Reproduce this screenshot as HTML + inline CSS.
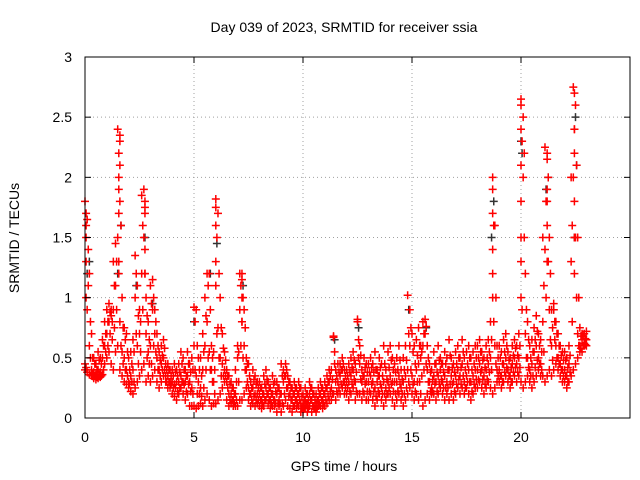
<!DOCTYPE html>
<html><head><meta charset="utf-8"><style>
body{margin:0;background:#fff}
svg{display:block;font-family:"Liberation Sans",sans-serif}
</style></head><body>
<svg id="chart" width="640" height="480">
<text x="344" y="32" text-anchor="middle" font-size="14">Day 039 of 2023, SRMTID for receiver ssia</text>
<text x="344" y="471" text-anchor="middle" font-size="14">GPS time / hours</text>
<text transform="translate(19,238) rotate(-90)" text-anchor="middle" font-size="14">SRMTID / TECUs</text>
<g id="grid"></g><g id="marks"></g><g id="axes"></g>
</svg>
<script>
const xTicks=[0,5,10,15,20];
const yTicks=[0,0.5,1,1.5,2,2.5,3];
const yTickLabels=["0","0.5","1","1.5","2","2.5","3"];
const step=0.1;
const lowV=[.40,.38,.36,.35,.33,.32,.33,.34,.36,.45,
.50,.55,.45,.40,.55,.60,.40,.35,.30,.28,
.25,.22,.20,.25,.30,.35,.40,.45,.30,.35,
.30,.35,.40,.30,.25,.30,.35,.30,.25,.25,
.20,.18,.15,.20,.25,.20,.15,.20,.10,.10,
.10,.08,.10,.12,.10,.15,.20,.15,.10,.12,
.12,.15,.20,.25,.30,.15,.10,.12,.10,.10,
.10,.15,.15,.20,.25,.15,.10,.12,.10,.12,
.10,.08,.10,.15,.12,.08,.10,.10,.05,.10,
.05,.10,.15,.10,.08,.05,.10,.08,.10,.05,
.05,.08,.05,.10,.05,.08,.05,.10,.10,.08,
.10,.12,.15,.15,.20,.15,.20,.20,.25,.20,
.20,.15,.20,.25,.15,.20,.20,.15,.20,.15,
.15,.20,.15,.10,.15,.20,.15,.10,.15,.20,
.20,.15,.10,.15,.20,.15,.10,.15,.20,.25,
.20,.15,.20,.15,.20,.10,.15,.20,.15,.20,
.20,.15,.20,.25,.20,.15,.20,.15,.20,.15,
.20,.25,.20,.25,.20,.25,.20,.15,.20,.25,
.25,.30,.25,.20,.25,.30,.25,.20,.25,.30,
.30,.25,.30,.35,.30,.25,.30,.35,.30,.35,
.30,.25,.30,.35,.30,.25,.30,.35,.40,.35,
.35,.30,.35,.40,.35,.40,.45,.40,.35,.30,
.30,.25,.30,.35,.40,.45,.50,.55,.55,.60,.60];
const midV=[.45,.90,.60,.40,.38,.36,.40,.38,.50,.60,
.70,.80,.85,.90,1.10,1.50,.80,.55,.50,.40,
.30,.35,.40,1.00,.60,.70,1.20,1.50,.70,.55,
.60,.90,.70,.50,.40,.45,.50,.35,.35,.30,
.30,.28,.30,.30,.35,.30,.30,.35,.30,.25,
.60,.35,.30,.25,.40,.60,.80,.55,.40,.30,
1.10,.75,.50,.45,.40,.30,.20,.20,.15,.20,
.50,.90,.80,.60,.40,.25,.20,.25,.20,.20,
.20,.15,.20,.25,.20,.15,.20,.15,.20,.15,
.20,.30,.35,.25,.20,.15,.20,.15,.20,.12,
.12,.15,.12,.20,.15,.10,.12,.15,.20,.15,
.20,.25,.30,.25,.67,.30,.30,.35,.40,.30,
.30,.30,.35,.40,.30,.80,.45,.30,.35,.30,
.30,.35,.30,.25,.30,.35,.25,.30,.25,.30,
.35,.30,.30,.30,.35,.25,.30,.35,.40,.60,
.35,.30,.40,.45,.50,.60,.70,.40,.30,.25,
.35,.30,.35,.40,.30,.35,.30,.40,.35,.30,
.35,.40,.35,.45,.30,.35,.40,.30,.35,.40,
.40,.45,.40,.35,.40,.45,.50,1.20,.60,.40,
.40,.35,.45,.50,.40,.35,.45,.50,.45,.50,
1.50,2.00,.70,.50,.40,.45,.55,.60,.50,.45,
.80,1.40,1.80,.90,.60,.90,.60,.50,.45,.40,
.40,.35,.45,1.30,2.00,1.50,.70,.60,.65,.62,.65];
const highV=[1.80,1.65,1.20,.70,.50,.45,.55,.50,.65,.80,
.90,.95,.90,1.30,1.45,2.40,2.30,1.00,.75,.70,
.50,.55,.65,1.35,1.10,.90,1.85,1.90,1.00,.80,
1.10,1.15,.90,.70,.55,.60,.65,.45,.45,.40,
.40,.45,.40,.45,.55,.50,.40,.55,.45,.50,
.92,.90,.50,.50,.70,1.00,1.20,1.20,.60,.55,
1.82,1.70,1.00,.70,.55,.40,.35,.30,.25,.40,
.60,1.20,1.20,.90,.50,.45,.30,.40,.35,.30,
.30,.25,.35,.40,.30,.25,.35,.30,.30,.25,
.45,.40,.45,.35,.30,.25,.30,.25,.30,.25,
.20,.25,.20,.30,.25,.20,.20,.25,.30,.25,
.30,.35,.40,.40,.68,.40,.45,.45,.50,.40,
.40,.45,.50,.55,.45,.82,.60,.40,.50,.45,
.45,.50,.45,.55,.40,.50,.45,.60,.40,.55,
.60,.50,.45,.50,.60,.40,.50,.60,1.02,.90,
.70,.60,.65,.75,.60,.80,.82,.60,.45,.40,
.55,.45,.60,.50,.45,.55,.50,.65,.50,.45,
.55,.60,.50,.65,.50,.55,.60,.50,.55,.60,
.60,.65,.55,.50,.60,.65,.80,2.00,1.60,.60,
.60,.55,.65,.70,.55,.50,.60,.65,.60,.70,
2.65,2.50,1.20,.80,.60,.65,.75,.85,.70,.65,
1.50,2.25,2.20,1.50,.90,.95,.80,.70,.60,.55,
.55,.50,.60,2.00,2.75,2.60,1.50,.75,.70,.70,.72];
const halfB=[.42,1.40,.50,.37,.35,.34,.36,.35,.40,.55,
.60,.70,.65,.75,.90,1.20,.60,.45,.40,.35,
.28,.30,.30,.70,.45,.55,.90,1.20,.50,.45,
.45,.60,.55,.40,.35,.40,.40,.30,.30,.28,
.25,.25,.22,.25,.30,.28,.22,.28,.22,.20,
.40,.20,.20,.18,.25,.40,.50,.40,.30,.20,
.70,.50,.35,.35,.35,.25,.15,.15,.12,.15,
.30,.60,.50,.40,.30,.20,.15,.18,.15,.15,
.15,.12,.15,.20,.15,.12,.15,.12,.12,.12,
.12,.20,.25,.18,.15,.10,.15,.12,.15,.08,
.08,.12,.08,.15,.10,.08,.08,.12,.15,.12,
.15,.18,.22,.20,.45,.22,.25,.28,.30,.25,
.25,.22,.28,.32,.22,.50,.32,.22,.28,.22,
.22,.28,.22,.18,.22,.28,.20,.20,.20,.25,
.28,.22,.20,.22,.28,.20,.20,.25,.30,.40,
.28,.22,.30,.30,.35,.40,.45,.30,.22,.22,
.28,.22,.28,.32,.25,.25,.25,.28,.28,.22,
.28,.32,.28,.35,.25,.30,.30,.22,.28,.32,
.32,.38,.32,.28,.32,.38,.40,.80,.45,.35,
.35,.30,.38,.42,.35,.30,.38,.42,.38,.42,
.90,1.50,.50,.42,.35,.35,.42,.48,.45,.40,
.55,1.00,1.30,.65,.48,.65,.50,.45,.40,.35,
.35,.30,.38,.80,1.50,1.00,.60,.58,.60,.61];
const halfC=[1.60,1.10,.80,.50,.45,.40,.48,.45,.60,.70,
.80,.88,.80,1.10,1.30,2.00,1.60,.75,.65,.55,
.40,.45,.55,1.20,.85,.80,1.60,1.75,.85,.65,
.95,1.00,.80,.60,.48,.52,.58,.40,.40,.35,
.35,.38,.35,.38,.45,.40,.35,.45,.38,.40,
.80,.60,.40,.35,.55,.85,1.10,.90,.50,.40,
1.50,1.20,.75,.58,.48,.35,.28,.25,.20,.30,
.55,1.10,1.00,.75,.45,.35,.25,.32,.28,.25,
.25,.20,.28,.32,.25,.20,.28,.22,.25,.20,
.35,.35,.40,.30,.25,.20,.25,.20,.25,.18,
.15,.20,.15,.25,.20,.15,.15,.20,.25,.20,
.25,.30,.35,.32,.55,.35,.38,.40,.45,.35,
.35,.38,.42,.48,.38,.65,.52,.35,.42,.38,
.38,.42,.38,.40,.35,.42,.35,.45,.32,.42,
.48,.40,.38,.40,.48,.32,.40,.48,.70,.75,
.55,.45,.52,.60,.55,.70,.76,.50,.38,.32,
.45,.38,.48,.45,.38,.45,.40,.52,.42,.38,
.45,.50,.42,.55,.40,.45,.50,.40,.45,.50,
.50,.55,.48,.42,.50,.55,.65,1.60,1.00,.50,
.50,.45,.55,.60,.48,.42,.52,.58,.52,.60,
2.30,2.20,.90,.65,.50,.55,.65,.72,.60,.55,
1.10,1.80,2.00,1.20,.75,.80,.70,.60,.52,.48,
.48,.42,.52,1.60,2.40,2.10,1.00,.68,.68,.66];
const spikeT=[0.05,0.05,0.05,0.05,1.55,1.55,1.55,1.55,1.6,1.6,1.6,2.75,2.75,2.75,2.75,6.0,6.0,6.0,7.2,7.2,7.2,18.7,18.7,18.7,18.7,20.0,20.0,20.0,20.0,20.0,20.0,21.2,21.2,21.2,21.2,22.45,22.45,22.45,22.45,22.45];
const spikeV=[1.7,1.5,1.3,1.0,2.2,1.9,1.7,1.3,2.35,2.1,1.8,1.8,1.7,1.4,1.2,1.75,1.6,1.3,1.15,1.0,0.8,1.9,1.7,1.4,1.0,2.6,2.4,2.1,1.8,1.3,1.0,2.15,1.9,1.6,1.3,2.7,2.4,2.2,1.8,1.2];
const blackT=[0.1,0.2,1.5,1.65,2.35,2.75,3.1,5.0,5.75,6.05,7.25,11.45,12.55,14.85,15.65,18.65,18.75,20.0,20.05,21.15,21.25,21.5,22.45,22.5,22.55];
const blackV=[1.2,1.3,1.2,1.6,1.1,1.5,0.95,0.8,1.2,1.45,1.1,0.65,0.75,0.9,0.75,1.5,1.8,2.3,2.2,1.9,2.0,0.9,1.5,2.5,2.1];

const X0=85,X1=630,Y0=418,Y1=57,XMAX=25,YMAX=3;
const xs=t=>X0+(X1-X0)*t/XMAX;
const ys=v=>Y0-(Y0-Y1)*v/YMAX;
const NS="http://www.w3.org/2000/svg";
const grid=document.getElementById('grid'),marks=document.getElementById('marks'),axes=document.getElementById('axes');
function mk(tag,attrs,parent){const e=document.createElementNS(NS,tag);for(const k in attrs)e.setAttribute(k,attrs[k]);parent.appendChild(e);return e;}
xTicks.forEach(t=>{
  const x=xs(t);
  if(t>0){const g=mk('line',{x1:x,x2:x,y1:Y0,y2:Y1,stroke:'#a0a0a0','stroke-dasharray':'1,3'},grid);
  
  }
  const tx=mk('text',{x:x,y:Y0+24,'text-anchor':'middle','font-size':'14'},axes);
  tx.textContent=t;
  
  
  mk('line',{x1:x,x2:x,y1:Y0,y2:Y0-6,stroke:'#000'},axes);
  mk('line',{x1:x,x2:x,y1:Y1,y2:Y1+6,stroke:'#000'},axes);
});
yTicks.forEach((v,i)=>{
  const y=ys(v);
  if(v>0&&v<YMAX){const g=mk('line',{x1:X0,x2:X1,y1:y,y2:y,stroke:'#a0a0a0','stroke-dasharray':'1,3'},grid);
  
  }
  const tx=mk('text',{x:X0-13,y:y+5,'text-anchor':'end','font-size':'14'},axes);
  tx.textContent=yTickLabels[i];
  
  
  mk('line',{x1:X0,x2:X0+6,y1:y,y2:y,stroke:'#000'},axes);
  mk('line',{x1:X1,x2:X1-6,y1:y,y2:y,stroke:'#000'},axes);
});
const fr=mk('rect',{x:X0,y:Y1,width:X1-X0,height:Y0-Y1,fill:'none',stroke:'#000'},axes);


function plus(t,v,color,name){
  const x=xs(t),y=ys(v);
  const p=mk('path',{d:`M${x-4},${y}h8M${x},${y-4}v8`,stroke:color,'stroke-width':'1.5',fill:'none'},marks);
  
  
}
blackT.forEach((t,i)=>plus(t,blackV[i],'#333','black-point'));
[lowV,midV,highV].forEach(arr=>arr.forEach((v,i)=>plus(i*step,v,'#ff0000','red-point')));
[halfB,halfC].forEach(arr=>arr.forEach((v,i)=>plus(i*step+step/2,v,'#ff0000','red-point')));
spikeT.forEach((t,i)=>plus(t,spikeV[i],'#ff0000','red-point'));
</script>
</body></html>
